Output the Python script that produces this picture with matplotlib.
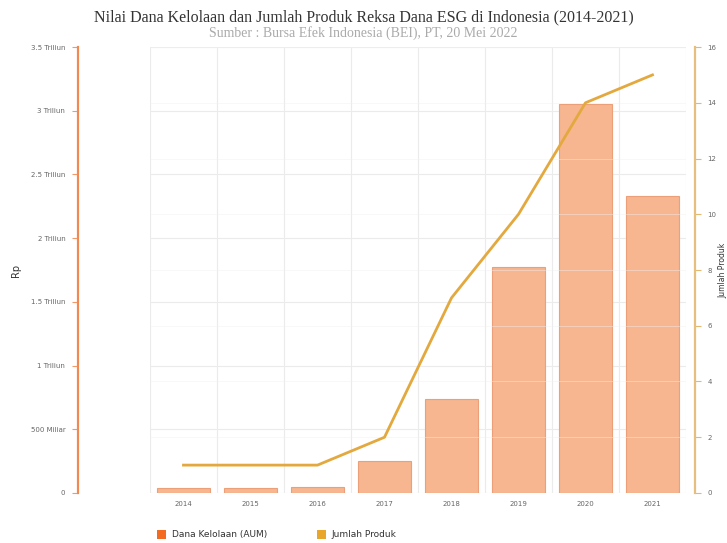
import matplotlib.pyplot as plt
from matplotlib.patches import Patch

years = ["2014", "2015", "2016", "2017", "2018", "2019", "2020", "2021"]
aum_triliun = [0.04, 0.04, 0.05, 0.25, 0.74, 1.77, 3.05, 2.33]
jumlah_produk = [1, 1, 1, 2, 7, 10, 14, 15]
left_ticks = [0, 0.5, 1, 1.5, 2, 2.5, 3, 3.5]
left_labels = ["0", "500 Miliar", "1 Triliun", "1.5 Triliun", "2 Triliun",
               "2.5 Triliun", "3 Triliun", "3.5 Triliun"]
right_ticks = [0, 2, 4, 6, 8, 10, 12, 14, 16]

bar_color = "#f7b690"
bar_edge = "#eba07a"
line_color = "#e3a93e"
grid_color = "#ebebeb"
tick_color = "#666666"

fig = plt.figure(figsize=(7.27, 5.43), dpi=100)
ax = fig.add_axes([0.2063, 0.0921, 0.7373, 0.8213])
ax2 = ax.twinx()

x = list(range(len(years)))
ax.bar(x, aum_triliun, width=0.8, color=bar_color, edgecolor=bar_edge, linewidth=0.8, zorder=2)
ax.set_xlim(-0.5, len(years) - 0.5)
ax.set_ylim(0, 3.5)
ax.set_yticks(left_ticks)
ax.set_yticklabels(left_labels)
ax.set_xticks(x)
ax.set_xticklabels(years)
ax.set_xticks([i - 0.5 for i in range(len(years) + 1)], minor=True)
ax.grid(True, axis="y", color=grid_color, linewidth=0.8, zorder=0)
ax.grid(True, axis="x", which="minor", color=grid_color, linewidth=0.8, zorder=0)
ax.tick_params(axis="x", which="both", length=0, labelsize=5, labelcolor=tick_color, pad=6)
ax.tick_params(axis="y", length=4, width=0.8, color="#f09a6a", labelsize=5, labelcolor=tick_color, pad=5)
ax.set_ylabel("Rp", fontsize=7, color="#333333")
ax.yaxis.set_label_coords(-0.24, 0.5)

for s in ["top", "bottom", "right"]:
    ax.spines[s].set_visible(False)
# spines sit away from the plot area, as in the reference (72 px left, 9 px right)
ax.spines["left"].set_position(("outward", 52))
ax.spines["left"].set_color("#f08a52")
ax.spines["left"].set_linewidth(1.6)

ax2.plot(x, jumlah_produk, color=line_color, linewidth=2, zorder=3)
ax2.set_ylim(0, 16)
ax2.set_yticks(right_ticks)
ax2.grid(True, axis="y", color="#f0f0f0", linewidth=0.6, alpha=0.5, zorder=0)
ax2.tick_params(axis="y", length=4, width=0.8, color="#e3b870", labelsize=5, labelcolor=tick_color, pad=5)
for s in ["top", "bottom", "left"]:
    ax2.spines[s].set_visible(False)
ax2.spines["right"].set_position(("outward", 6.5))
ax2.spines["right"].set_color("#e6be7e")
ax2.spines["right"].set_linewidth(1.6)
ax2.set_ylabel("Jumlah Produk", fontsize=5.5, color="#333333")
ax2.yaxis.set_label_coords(1.061, 0.5)
ax.set_zorder(ax2.get_zorder() - 1)
ax.patch.set_visible(True)
ax2.patch.set_visible(False)

fig.text(0.5, 0.968, "Nilai Dana Kelolaan dan Jumlah Produk Reksa Dana ESG di Indonesia (2014-2021)",
         ha="center", va="center", family="Liberation Serif", fontsize=11.5, color="#333333")
fig.text(0.5, 0.939, "Sumber : Bursa Efek Indonesia (BEI), PT, 20 Mei 2022",
         ha="center", va="center", family="Liberation Serif", fontsize=10, color="#aaaaaa")

handles = [Patch(facecolor="#f26b21", edgecolor="none", label="Dana Kelolaan (AUM)"),
           Patch(facecolor="#e8a72a", edgecolor="none", label="Jumlah Produk")]
fig.legend(handles=handles, loc="lower left", bbox_to_anchor=(0.205, -0.008), ncol=2,
           frameon=False, fontsize=6.5, handlelength=1.0, handleheight=1.2,
           columnspacing=5.6, handletextpad=0.6, labelcolor="#333333")

fig.savefig("out.png", dpi=100)
